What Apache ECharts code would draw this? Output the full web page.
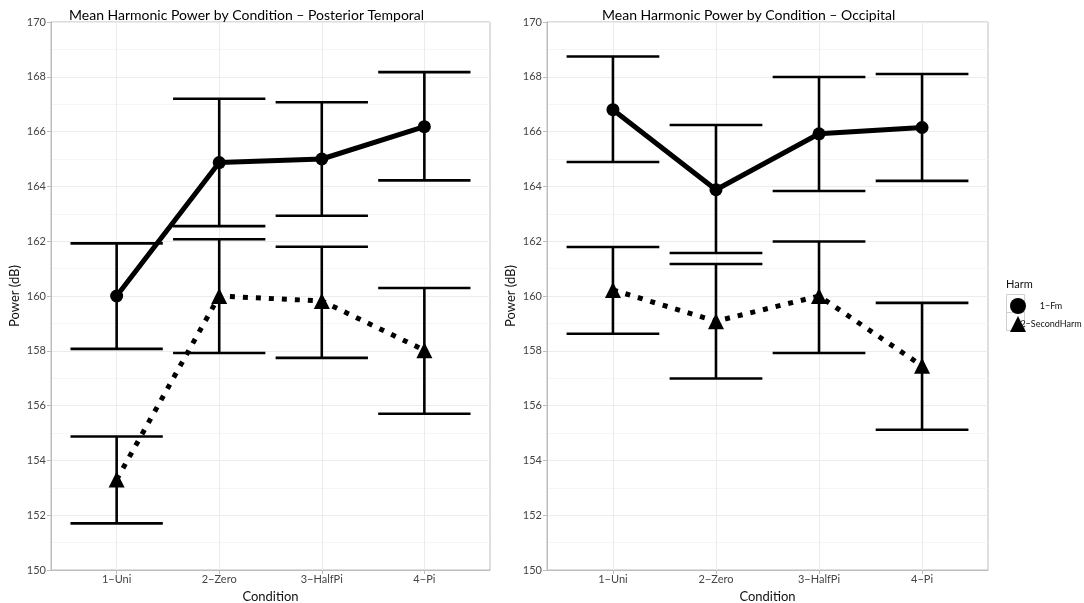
<!DOCTYPE html>
<html>
<head>
<meta charset="utf-8">
<script src="https://cdn.jsdelivr.net/npm/echarts@6/dist/echarts.min.js"></script>
<style>html,body{margin:0;padding:0;background:#fff}#c{width:1084px;height:603px}</style>
</head>
<body>
<div id="c"></div>
<script>
const categories = ['1\u2212Uni', '2\u2212Zero', '3\u2212HalfPi', '4\u2212Pi'];
const yTicks = [150, 152, 154, 156, 158, 160, 162, 164, 166, 168, 170];
const seriesNames = ['1\u2212Fm', '2\u2212SecondHarm'];
const panelTitles = ['Mean Harmonic Power by Condition \u2013 Posterior Temporal', 'Mean Harmonic Power by Condition \u2013 Occipital'];

// Posterior Temporal
const ptFmMean = [160.0, 164.87, 165.0, 166.18];
const ptFmLow = [158.07, 162.55, 162.93, 164.22];
const ptFmHigh = [161.92, 167.2, 167.07, 168.17];
const ptShMean = [153.3, 160.0, 159.82, 158.02];
const ptShLow = [151.7, 157.92, 157.74, 155.7];
const ptShHigh = [154.87, 162.07, 161.8, 160.29];

// Occipital
const ocFmMean = [166.8, 163.88, 165.92, 166.15];
const ocFmLow = [164.89, 161.57, 163.83, 164.2];
const ocFmHigh = [168.74, 166.24, 167.99, 168.1];
const ocShMean = [160.22, 159.08, 160.0, 157.45];
const ocShLow = [158.62, 156.99, 157.92, 155.12];
const ocShHigh = [161.79, 161.17, 161.99, 159.75];

const chart = echarts.init(document.getElementById('c'), null, {renderer: 'canvas'});
const FONT = 'Lato';
const gray = '#bdbdbd';

function pts(means) { return means.map((v, i) => [i + 1, v]); }
function bars(low, high) { return low.map((v, i) => [i + 1, v, high[i]]); }

function errRender(params, api) {
  const x = api.value(0);
  const lo = api.coord([x, api.value(1)]);
  const hi = api.coord([x, api.value(2)]);
  const half = api.size([0.45, 0])[0];
  const st = {stroke: '#000', lineWidth: 2.6};
  return {
    type: 'group',
    children: [
      {type: 'line', shape: {x1: lo[0], y1: lo[1], x2: hi[0], y2: hi[1]}, style: st},
      {type: 'line', shape: {x1: lo[0] - half, y1: lo[1], x2: lo[0] + half, y2: lo[1]}, style: st},
      {type: 'line', shape: {x1: hi[0] - half, y1: hi[1], x2: hi[0] + half, y2: hi[1]}, style: st}
    ]
  };
}

function xAxisFor(idx) {
  return {
    type: 'value', gridIndex: idx, min: 0.36, max: 4.64,
    name: 'Condition', nameLocation: 'middle', nameGap: 20,
    nameTextStyle: {fontFamily: FONT, fontSize: 13, color: '#111'},
    axisLine: {show: true, lineStyle: {color: gray}},
    axisTick: {show: true, length: 4, lineStyle: {color: gray}, customValues: [1, 2, 3, 4]},
    axisLabel: {customValues: [1, 2, 3, 4], formatter: v => categories[Math.round(v) - 1], fontFamily: FONT, fontSize: 11, color: '#444', margin: 4},
    splitLine: {show: true, lineStyle: {color: '#ececec', width: 1}},
    minorSplitLine: {show: false}
  };
}
function yAxisFor(idx) {
  return {
    type: 'value', gridIndex: idx, min: yTicks[0], max: yTicks[yTicks.length - 1], interval: 2,
    name: 'Power (dB)', nameLocation: 'middle', nameGap: 30,
    nameTextStyle: {fontFamily: FONT, fontSize: 13, color: '#111'},
    axisLine: {show: true, lineStyle: {color: gray}},
    axisTick: {show: true, length: 4, lineStyle: {color: gray}},
    axisLabel: {fontFamily: FONT, fontSize: 11, color: '#444', margin: 5},
    splitLine: {show: true, lineStyle: {color: '#ececec', width: 1}},
    minorTick: {show: false, splitNumber: 2},
    minorSplitLine: {show: true, lineStyle: {color: '#f6f6f6', width: 1}}
  };
}

function panelSeries(idx, fmM, fmL, fmH, shM, shL, shH) {
  return [
    {type: 'custom', name: seriesNames[0] + ' bars', xAxisIndex: idx, yAxisIndex: idx, renderItem: errRender, data: bars(fmL, fmH), silent: true, z: 2},
    {type: 'custom', name: seriesNames[1] + ' bars', xAxisIndex: idx, yAxisIndex: idx, renderItem: errRender, data: bars(shL, shH), silent: true, z: 2},
    {type: 'line', name: seriesNames[0], xAxisIndex: idx, yAxisIndex: idx, data: pts(fmM), symbol: 'circle', symbolSize: 13,
      itemStyle: {color: '#000'}, lineStyle: {color: '#000', width: 5}, z: 4, animation: false},
    {type: 'line', name: seriesNames[1], xAxisIndex: idx, yAxisIndex: idx, data: pts(shM), symbol: 'triangle', symbolSize: 16,
      itemStyle: {color: '#000'}, lineStyle: {color: '#000', width: 5, type: [5, 8], cap: 'butt'}, z: 4, animation: false}
  ];
}

const option = {
  backgroundColor: '#fff',
  animation: false,
  textStyle: {fontFamily: FONT},
  title: [
    {text: panelTitles[0], left: 64, top: 3, textStyle: {fontFamily: FONT, fontSize: 14, fontWeight: 'normal', color: '#000'}},
    {text: panelTitles[1], left: 597, top: 3, textStyle: {fontFamily: FONT, fontSize: 14, fontWeight: 'normal', color: '#000'}}
  ],
  grid: [
    {left: 51, top: 22, width: 439, height: 548, show: true, borderColor: gray, borderWidth: 1, backgroundColor: '#fff', containLabel: false, outerBoundsMode: 'none'},
    {left: 547, top: 22, width: 441, height: 548, show: true, borderColor: gray, borderWidth: 1, backgroundColor: '#fff', containLabel: false, outerBoundsMode: 'none'}
  ],
  xAxis: [xAxisFor(0), xAxisFor(1)],
  yAxis: [yAxisFor(0), yAxisFor(1)],
  legend: {
    orient: 'vertical', left: 1005, top: 293, itemGap: 2, itemWidth: 16, itemHeight: 16,
    selectedMode: false,
    data: [{name: seriesNames[0], icon: 'circle'}, {name: seriesNames[1], icon: 'triangle'}],
    itemStyle: {color: '#000'},
    formatter: n => '{a|' + n + '}',
    textStyle: {fontFamily: FONT, fontSize: 9, color: '#111', rich: {a: {width: 40, align: 'center', fontFamily: FONT, fontSize: 9}}}
  },
  graphic: [
    {type: 'text', left: 1006, top: 279, style: {text: 'Harm', fontFamily: FONT, fontSize: 11, fill: '#111'}},
    {type: 'rect', left: 1004, top: 292, shape: {width: 18, height: 18}, style: {fill: 'none', stroke: '#cfcfcf', lineWidth: 1}, z: -1},
    {type: 'rect', left: 1004, top: 310, shape: {width: 18, height: 18}, style: {fill: 'none', stroke: '#cfcfcf', lineWidth: 1}, z: -1}
  ],
  series: [
    ...panelSeries(0, ptFmMean, ptFmLow, ptFmHigh, ptShMean, ptShLow, ptShHigh),
    ...panelSeries(1, ocFmMean, ocFmLow, ocFmHigh, ocShMean, ocShLow, ocShHigh)
  ]
};
chart.setOption(option);
</script>
</body>
</html>
